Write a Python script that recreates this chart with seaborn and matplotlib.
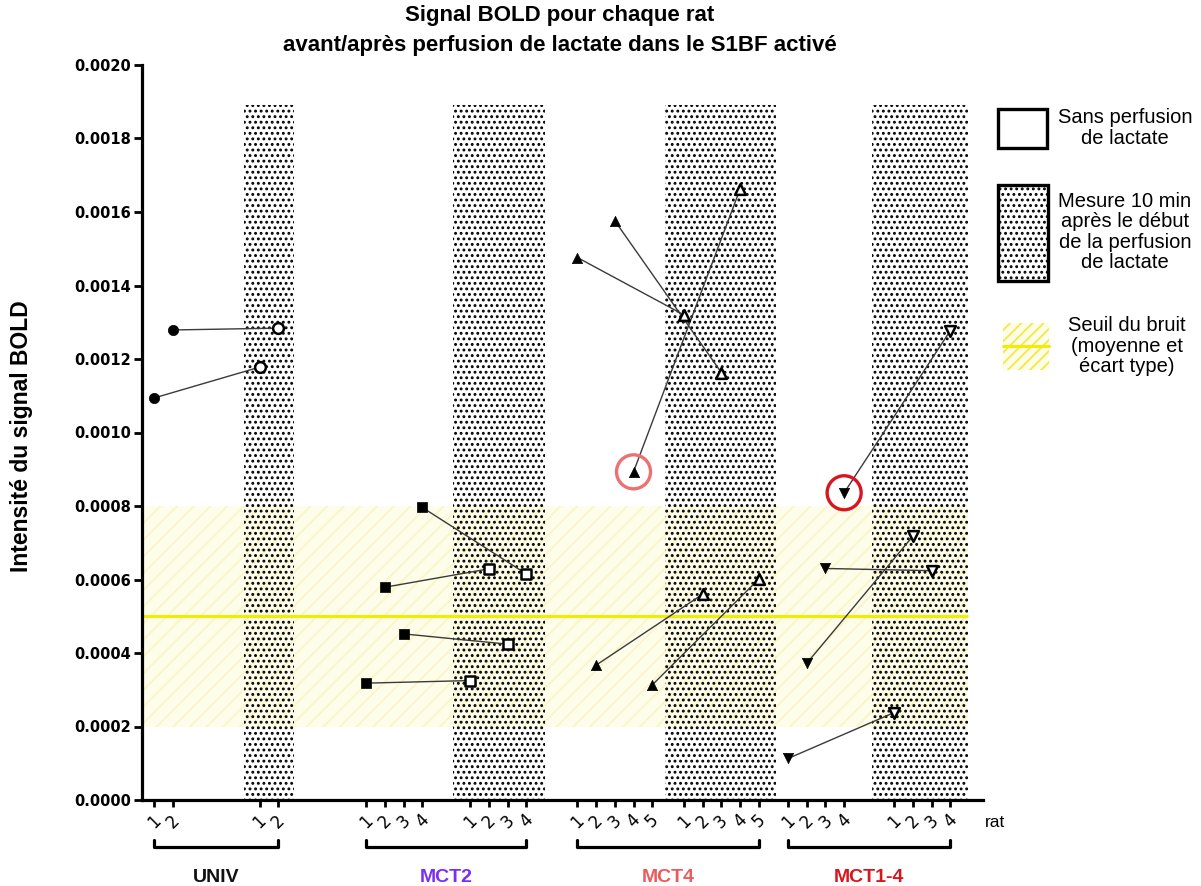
# Signal BOLD par rat, avant / après perfusion de lactate
import matplotlib
matplotlib.use('Agg')
import matplotlib.pyplot as plt
import matplotlib.patches as mpatches
import matplotlib.transforms as mtransforms
import seaborn as sns
import pandas as pd

# --- données ---
groupes = ['UNIV', 'MCT2', 'MCT4', 'MCT1-4']
couleurs_groupes = ['#111111', '#7b2ff2', '#ea5b5d', '#d8161e']

univ_avant = [0.001094, 0.001279]
univ_apres = [0.001178, 0.001284]
mct2_avant = [0.000318, 0.000579, 0.000452, 0.000796]
mct2_apres = [0.000325, 0.000629, 0.000424, 0.000615]
mct4_avant = [0.001476, 0.000367, 0.001576, 0.000893, 0.000313]
mct4_apres = [0.001320, 0.000560, 0.001163, 0.001662, 0.000601]
mct14_avant = [0.000113, 0.000372, 0.000630, 0.000836]
mct14_apres = [0.000238, 0.000718, 0.000624, 0.001277]

seuil_moyenne = 0.0005
seuil_ecart = 0.0003

rats_entoures = {'MCT4': 4, 'MCT1-4': 4}
couleurs_cercles = {'MCT4': '#ec7173', 'MCT1-4': '#d8161f'}

# --- mise en page de l'axe x ---
debut_avant = [0.65, 12.0, 23.3, 34.57]
debut_apres = [6.3, 17.57, 29.0, 40.25]
zones_apres = [(5.46, 8.13), (16.64, 21.56), (27.98, 33.92), (39.06, 44.2)]
haut_zones = 0.00189
marq = ['o', 's', '^', 'v']

valeurs = {
    'UNIV': (univ_avant, univ_apres),
    'MCT2': (mct2_avant, mct2_apres),
    'MCT4': (mct4_avant, mct4_apres),
    'MCT1-4': (mct14_avant, mct14_apres),
}

lignes = []
for g, groupe in enumerate(groupes):
    avant, apres = valeurs[groupe]
    for i, (va, vp) in enumerate(zip(avant, apres)):
        lignes.append(dict(groupe=groupe, rat=i + 1, phase='avant',
                           x=debut_avant[g] + i, valeur=va, id=f'{groupe}-{i+1}'))
        lignes.append(dict(groupe=groupe, rat=i + 1, phase='apres',
                           x=debut_apres[g] + i, valeur=vp, id=f'{groupe}-{i+1}'))
df = pd.DataFrame(lignes)

sns.set_style('ticks')
plt.rcParams['font.family'] = ['Liberation Sans', 'DejaVu Sans']
plt.rcParams['text.color'] = 'black'
plt.rcParams['hatch.linewidth'] = 1.3

fig = plt.figure(figsize=(12.01, 8.86), dpi=100)
ax = fig.add_axes([142 / 1201, 86 / 886, 841 / 1201, 735 / 886])
W, H = 1201, 886

# bande du bruit
ax.add_patch(mpatches.Rectangle((0, seuil_moyenne - seuil_ecart), zones_apres[-1][1],
                                2 * seuil_ecart, facecolor='#fefdea', edgecolor='#f9f5c6',
                                lw=0, hatch='//', zorder=0.5))
# zones pointillées (après perfusion)
for a, b in zones_apres:
    ax.add_patch(mpatches.Rectangle((a, 0), b - a, haut_zones, facecolor='none',
                                    edgecolor='black', lw=0, hatch='...', zorder=1))
ax.hlines(seuil_moyenne, 0, zones_apres[-1][1], color='#f4ec00', lw=2.2, zorder=2)

# segments avant -> après
sns.lineplot(data=df, x='x', y='valeur', units='id', estimator=None, sort=False,
             color='#3a3a3a', lw=1, ax=ax, zorder=3, legend=False)

for g, groupe in enumerate(groupes):
    sub = df[df.groupe == groupe]
    sns.scatterplot(data=sub[sub.phase == 'avant'], x='x', y='valeur', marker=marq[g],
                    s=55, color='black', edgecolor='black', linewidth=0.5,
                    ax=ax, zorder=4, legend=False)
    sns.scatterplot(data=sub[sub.phase == 'apres'], x='x', y='valeur', marker=marq[g],
                    s=60, color='white', edgecolor='black', linewidth=1.8,
                    ax=ax, zorder=4, legend=False)
    if groupe in rats_entoures:
        pt = sub[(sub.phase == 'avant') & (sub.rat == rats_entoures[groupe])]
        ax.scatter(pt.x, pt.valeur, s=600, facecolor='none',
                   edgecolor=couleurs_cercles[groupe], linewidth=2.4, zorder=5)

# axes
ax.set_xlim(0, 45)
ax.set_ylim(0, 0.0020)
ax.set_yticks([i * 0.0002 for i in range(11)])
ax.set_yticklabels([f'{i * 0.0002:.4f}' for i in range(11)], fontsize=10.5,
                   fontweight='bold', family='DejaVu Sans')
ax.set_xticks(df.x)
ax.set_xticklabels(df.rat.astype(str), rotation=45, fontsize=12, family='DejaVu Sans')
ax.set_xlabel('')
ax.set_ylabel('')
sns.despine(ax=ax)
for s in ['left', 'bottom']:
    ax.spines[s].set_linewidth(2.3)
    ax.spines[s].set_color('black')
ax.tick_params(axis='y', length=6, width=2, pad=2, colors='black')
ax.tick_params(axis='x', length=5, width=2, pad=3, colors='black')

# accolades et noms des groupes
trans = mtransforms.blended_transform_factory(ax.transData, ax.transAxes)
for g, groupe in enumerate(groupes):
    n = len(valeurs[groupe][0])
    x0, x1 = debut_avant[g], debut_apres[g] + n - 1
    ax.plot([x0, x0, x1, x1], [-0.054, -0.064, -0.064, -0.054], color='black',
            lw=2.3, transform=trans, clip_on=False)
    ax.text((x0 + x1) / 2, -0.106, groupe, color=couleurs_groupes[g], fontsize=14,
            fontweight='bold', ha='center', va='center', transform=trans)
ax.text(45.1, -0.03, 'rat', fontsize=12.5, ha='left', va='center', transform=trans)

# titre et label y
fig.text(560 / W, 1 - 16 / H, 'Signal BOLD pour chaque rat', ha='center', va='center',
         fontsize=16, fontweight='bold')
fig.text(560 / W, 1 - 46 / H, 'avant/après perfusion de lactate dans le S1BF activé',
         ha='center', va='center', fontsize=16, fontweight='bold')
fig.text(22 / W, 1 - 436 / H, 'Intensité du signal BOLD', rotation=90, ha='center',
         va='center', fontsize=16.5, fontweight='bold')

# légende
def rect_px(x0, y0, x1, y1, **kw):
    fig.add_artist(mpatches.Rectangle((x0 / W, 1 - y1 / H), (x1 - x0) / W, (y1 - y0) / H,
                                      transform=fig.transFigure, **kw))

rect_px(998, 109, 1047, 148, facecolor='white', edgecolor='black', lw=2.4)
rect_px(998, 185, 1048, 281, facecolor='white', edgecolor='black', lw=2.4, hatch='...')
rect_px(1003, 323, 1049, 370, facecolor='#fefde9', edgecolor='#f2ea40', lw=0, hatch='///')
fig.add_artist(plt.Line2D([1003 / W, 1049 / W], [1 - 346 / H, 1 - 346 / H],
                          transform=fig.transFigure, color='#f4ec00', lw=2.2))
fig.text(1125 / W, 1 - 128 / H, 'Sans perfusion\nde lactate', ha='center', va='center',
         fontsize=14.5, linespacing=1.1)
fig.text(1125 / W, 1 - 232 / H, 'Mesure 10 min\naprès le début\nde la perfusion\nde lactate',
         ha='center', va='center', fontsize=14.5, linespacing=1.1)
fig.text(1127 / W, 1 - 346 / H, 'Seuil du bruit\n(moyenne et\nécart type)', ha='center',
         va='center', fontsize=14.5, linespacing=1.1)

fig.savefig('out.png', dpi=100)
